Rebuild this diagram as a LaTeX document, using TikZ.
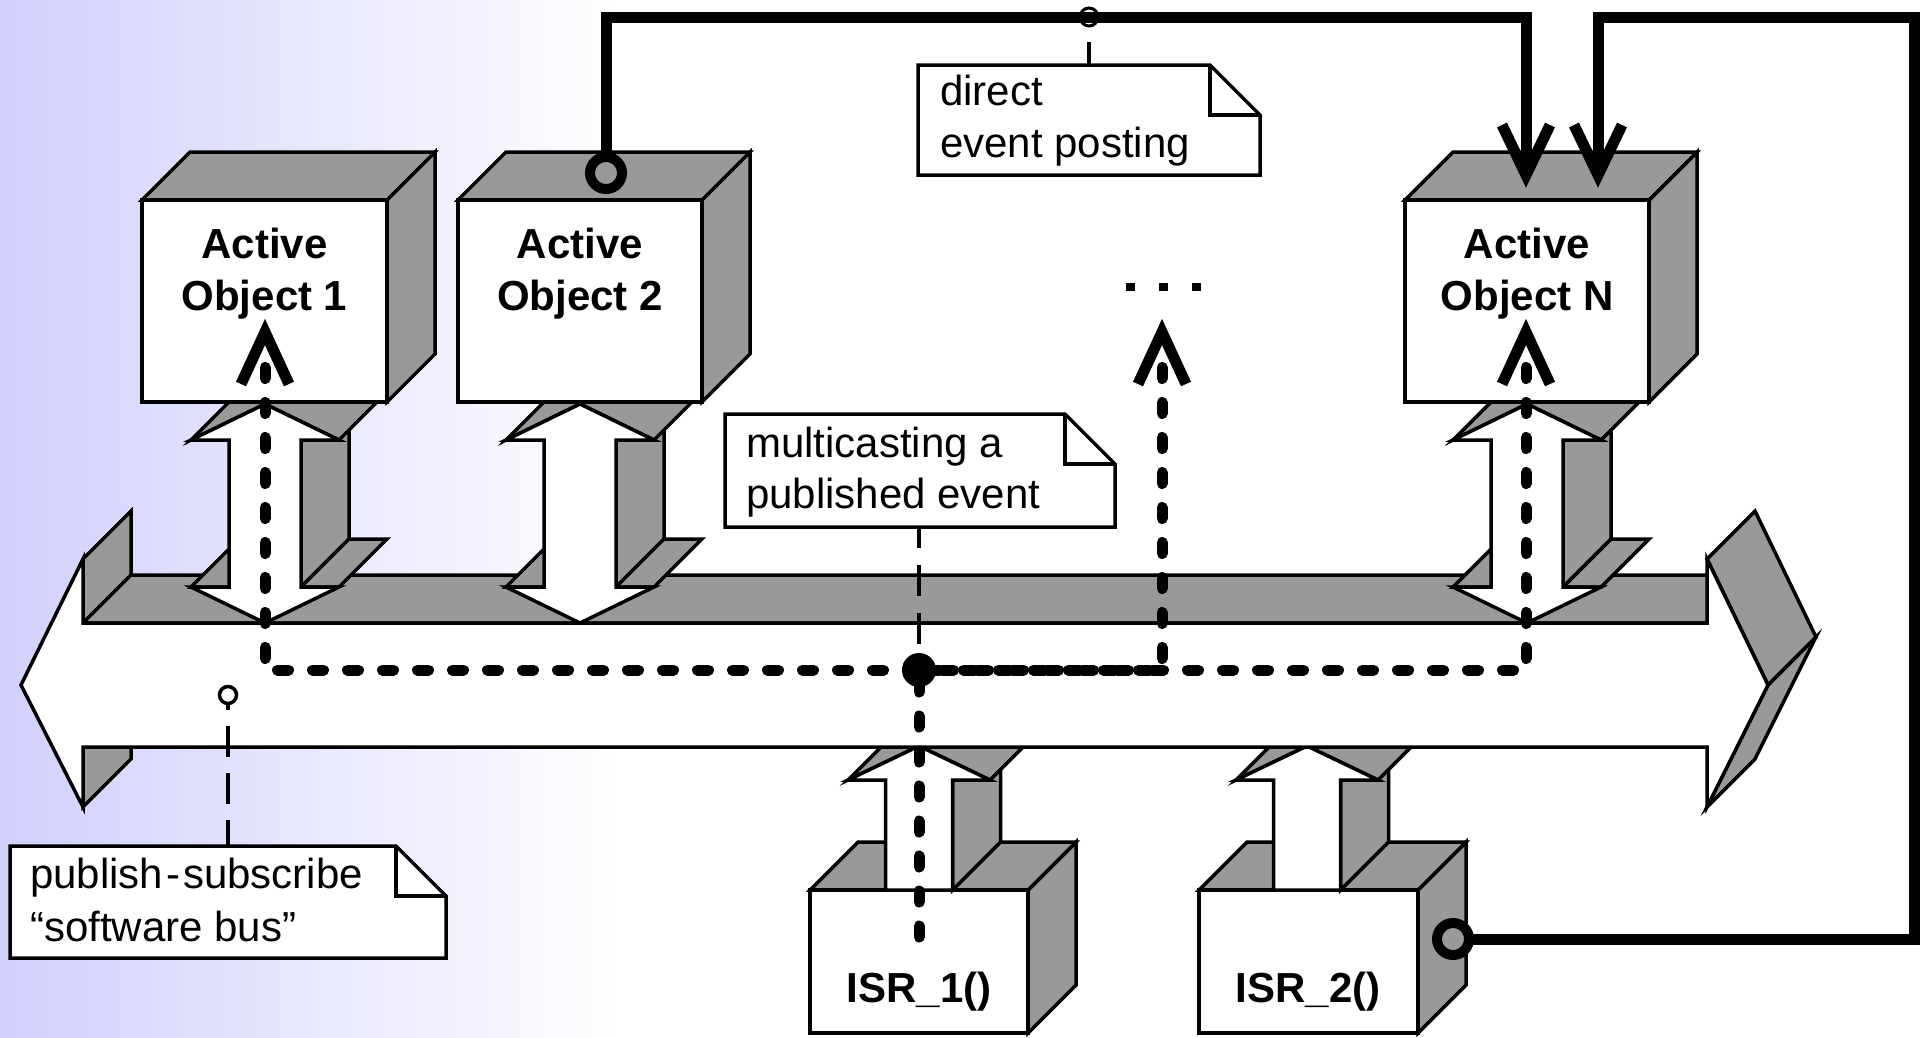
\documentclass[tikz,border=0pt]{standalone}
\usepackage{fontspec}
\setmainfont{Liberation Sans}
\usetikzlibrary{calc}

\definecolor{shadegray}{RGB}{153,153,153}
\definecolor{paneltint}{RGB}{208,208,252}

\tikzset{
  side/.style={fill=shadegray, draw=black, line width=3.5pt, line join=miter},
  face/.style={fill=white, draw=black, line width=3.5pt, line join=miter},
  boxlabel/.style={font=\fontsize{42}{52}\selectfont\bfseries, inner sep=0pt},
  notelabel/.style={font=\fontsize{42}{51}\selectfont, inner sep=0pt},
  notebox/.style={fill=white, draw=black, line width=3.5pt, line join=miter},
  eventpath/.style={line width=11pt, line cap=round, dash pattern=on 11pt off 24pt},
  tipmark/.style={line width=11pt, line join=miter, miter limit=20},
  postline/.style={line width=11pt, line join=miter},
  ring/.style={line width=10pt},
  tether/.style={line width=4pt},
}

% solid box showing its top and right sides: left, top, right, bottom
\newcommand{\cubeshape}[4]{%
  \path[side] (#3,#2) -- ({#3+48},{#2-48}) -- ({#3+48},{#4-48}) -- (#3,#4) -- cycle;
  \path[side] (#1,#2) -- ({#1+48},{#2-48}) -- ({#3+48},{#2-48}) -- (#3,#2) -- cycle;
  \path[face] (#1,#2) rectangle (#3,#4);
}

% solid two-headed vertical arrow: centre x, upper tip y, lower tip y
\newcommand{\twowayarrow}[3]{%
  \pgfmathsetmacro{\axc}{#1}\pgfmathsetmacro{\ata}{#2}\pgfmathsetmacro{\atb}{#3}
  \pgfmathsetmacro{\aya}{#2+36}\pgfmathsetmacro{\ayb}{#3-36}
  \path[side] ({\axc+36},\aya) -- ({\axc+36},\ayb) -- ({\axc+84},{\ayb-48}) -- ({\axc+84},{\aya-48}) -- cycle;
  \path[side] ({\axc+36},\ayb) -- ({\axc+74},\ayb) -- ({\axc+122},{\ayb-48}) -- ({\axc+84},{\ayb-48}) -- cycle;
  \path[side] ({\axc-74},\ayb) -- ({\axc-36},\ayb) -- ({\axc+12},{\ayb-48}) -- ({\axc-26},{\ayb-48}) -- cycle;
  \path[side] ({\axc-74},\aya) -- (\axc,\ata) -- ({\axc+48},{\ata-48}) -- ({\axc-26},{\aya-48}) -- cycle;
  \path[side] (\axc,\ata) -- ({\axc+74},\aya) -- ({\axc+122},{\aya-48}) -- ({\axc+48},{\ata-48}) -- cycle;
  \path[face] (\axc,\ata) -- ({\axc+74},\aya) -- ({\axc+36},\aya) -- ({\axc+36},\ayb)
    -- ({\axc+74},\ayb) -- (\axc,\atb) -- ({\axc-74},\ayb) -- ({\axc-36},\ayb)
    -- ({\axc-36},\aya) -- ({\axc-74},\aya) -- cycle;
}

% solid one-headed arrow rising from a box: centre x, tip y, foot y
\newcommand{\risearrow}[3]{%
  \pgfmathsetmacro{\rxc}{#1}\pgfmathsetmacro{\rtip}{#2}\pgfmathsetmacro{\rfoot}{#3}
  \pgfmathsetmacro{\rbarb}{#2+34}
  \path[side] ({\rxc+33.5},\rbarb) -- ({\rxc+33.5},\rfoot) -- ({\rxc+81.5},{\rfoot-48}) -- ({\rxc+81.5},{\rbarb-48}) -- cycle;
  \path[side] ({\rxc-71},\rbarb) -- (\rxc,\rtip) -- ({\rxc+48},{\rtip-48}) -- ({\rxc-23},{\rbarb-48}) -- cycle;
  \path[side] (\rxc,\rtip) -- ({\rxc+71},\rbarb) -- ({\rxc+119},{\rbarb-48}) -- ({\rxc+48},{\rtip-48}) -- cycle;
  \path[face] (\rxc,\rtip) -- ({\rxc+71},\rbarb) -- ({\rxc+33.5},\rbarb) -- ({\rxc+33.5},\rfoot)
    -- ({\rxc-33.5},\rfoot) -- ({\rxc-33.5},\rbarb) -- ({\rxc-71},\rbarb) -- cycle;
}

% note sheet with a folded corner: left, top, right, bottom
\newcommand{\notesheet}[4]{%
  \path[notebox] (#1,#2) -- ({#3-50},#2) -- (#3,{#2+50}) -- (#3,#4) -- (#1,#4) -- cycle;
  \draw[line width=3.5pt, line join=miter] ({#3-50},#2) -- ({#3-50},{#2+50}) -- (#3,{#2+50});
}

\begin{document}
\begin{tikzpicture}[x=1pt,y=-1pt]
\useasboundingbox (0,0) rectangle (1927,1037);
\fill[white] (0,0) rectangle (1927,1037);
\shade[left color=paneltint, right color=white] (0,0) rectangle (620,1037);

% interrupt service routines
\cubeshape{810}{890}{1028}{1033}
\node[boxlabel, anchor=base] (isr1) at (919,1002) {ISR\_1()};
\cubeshape{1199}{890}{1418}{1033}
\node[boxlabel, anchor=base] (isr2) at (1308,1002) {ISR\_2()};
\risearrow{919}{746}{890}
\risearrow{1307}{746}{890}

% publish-subscribe bus
\path[side] (83,559) -- (83,623) -- (131,575) -- (131,511) -- cycle;
\path[side] (83,623) -- (1707,623) -- (1755,575) -- (131,575) -- cycle;
\path[side] (83,747) -- (83,807) -- (131,759) -- (131,699) -- cycle;
\path[side] (1707,559) -- (1768,685) -- (1816,637) -- (1755,511) -- cycle;
\path[side] (1768,685) -- (1707,807) -- (1755,759) -- (1816,637) -- cycle;
\path[face] (21,685) -- (83,559) -- (83,623) -- (1707,623) -- (1707,559) -- (1768,685)
  -- (1707,807) -- (1707,747) -- (83,747) -- (83,807) -- cycle;

% links between the active objects and the bus
\twowayarrow{265}{404}{623}
\twowayarrow{580}{404}{623}
\twowayarrow{1527}{404}{623}

% active objects
\cubeshape{142}{200}{387}{402}
\node[boxlabel, anchor=base] (ao1a) at (264.5,258) {Active};
\node[boxlabel, anchor=base] (ao1b) at (264.5,310) {Object 1};
\cubeshape{458}{200}{702}{402}
\node[boxlabel, anchor=base] (ao2a) at (580,258) {Active};
\node[boxlabel, anchor=base] (ao2b) at (580,310) {Object 2};
\cubeshape{1405}{200}{1649}{402}
\node[boxlabel, anchor=base] (aona) at (1527,258) {Active};
\node[boxlabel, anchor=base] (aonb) at (1527,310) {Object N};

% ellipsis for further active objects
\foreach \ex in {1130,1163,1196} \fill (\ex-4.5,283) rectangle (\ex+4.5,291);

% multicast of a published event
\coordinate (hub) at (919,670);
\draw[eventpath] (265,367.5) -- (265,670) -- (hub);
\draw[eventpath] (1526,367.5) -- (1526,670) -- (hub);
\draw[eventpath] (1162,367.5) -- (1162,670) -- (hub);
\draw[eventpath] (919,937) -- (hub);
\fill (hub) circle (17);
\draw[tipmark] (241,384) -- (265,332) -- (289,384);
\draw[tipmark] (1138,384) -- (1162,332) -- (1186,384);
\draw[tipmark] (1502,384) -- (1526,332) -- (1550,384);

% notes
\notesheet{918}{65}{1260}{175}
\node[notelabel, anchor=base west] (dir1) at (940,105) {direct};
\node[notelabel, anchor=base west] (dir2) at (940,157) {event posting};
\notesheet{725}{414}{1115}{527}
\node[notelabel, anchor=base west] (mc1) at (746,457) {multicasting a};
\node[notelabel, anchor=base west] (mc2) at (746,508) {published event};
\notesheet{10}{846}{446}{958}
\node[notelabel, anchor=base west] (ps1) at (30,888) {publish\kern3pt-\kern3pt subscribe};
\node[notelabel, anchor=base west] (ps2) at (30,941) {“software bus”};

\draw[tether, dash pattern=on 31pt off 17pt, dash phase=10pt] (919,527) -- ($(hub)+(0,-16)$);
\draw[tether, dash pattern=on 31pt off 16pt, dash phase=26pt] (228,705) -- (228,846);
\draw[line width=3.5pt] (228,695) circle (8.5);

% direct event posting
\coordinate (ao2ring) at (606,173);
\coordinate (isr2ring) at (1453,939);
\draw[postline] ($(ao2ring)+(0,-16)$) |- (1526,17.5) -- (1526,175);
\draw[postline] ($(isr2ring)+(16,0)$) -| (1914,17.5) -- (1598,17.5) -- (1598,175);
\draw[ring] (ao2ring) circle (16);
\draw[ring] (isr2ring) circle (16);
\draw[tipmark] (1502,125) -- (1526,175) -- (1550,125);
\draw[tipmark] (1574,125) -- (1598,175) -- (1622,125);
\draw[tether, dash pattern=on 31pt off 16pt, dash phase=31pt] (1089,26) -- (1089,65);
\draw[line width=3pt] (1089,17) circle (9);
\end{tikzpicture}
\end{document}
